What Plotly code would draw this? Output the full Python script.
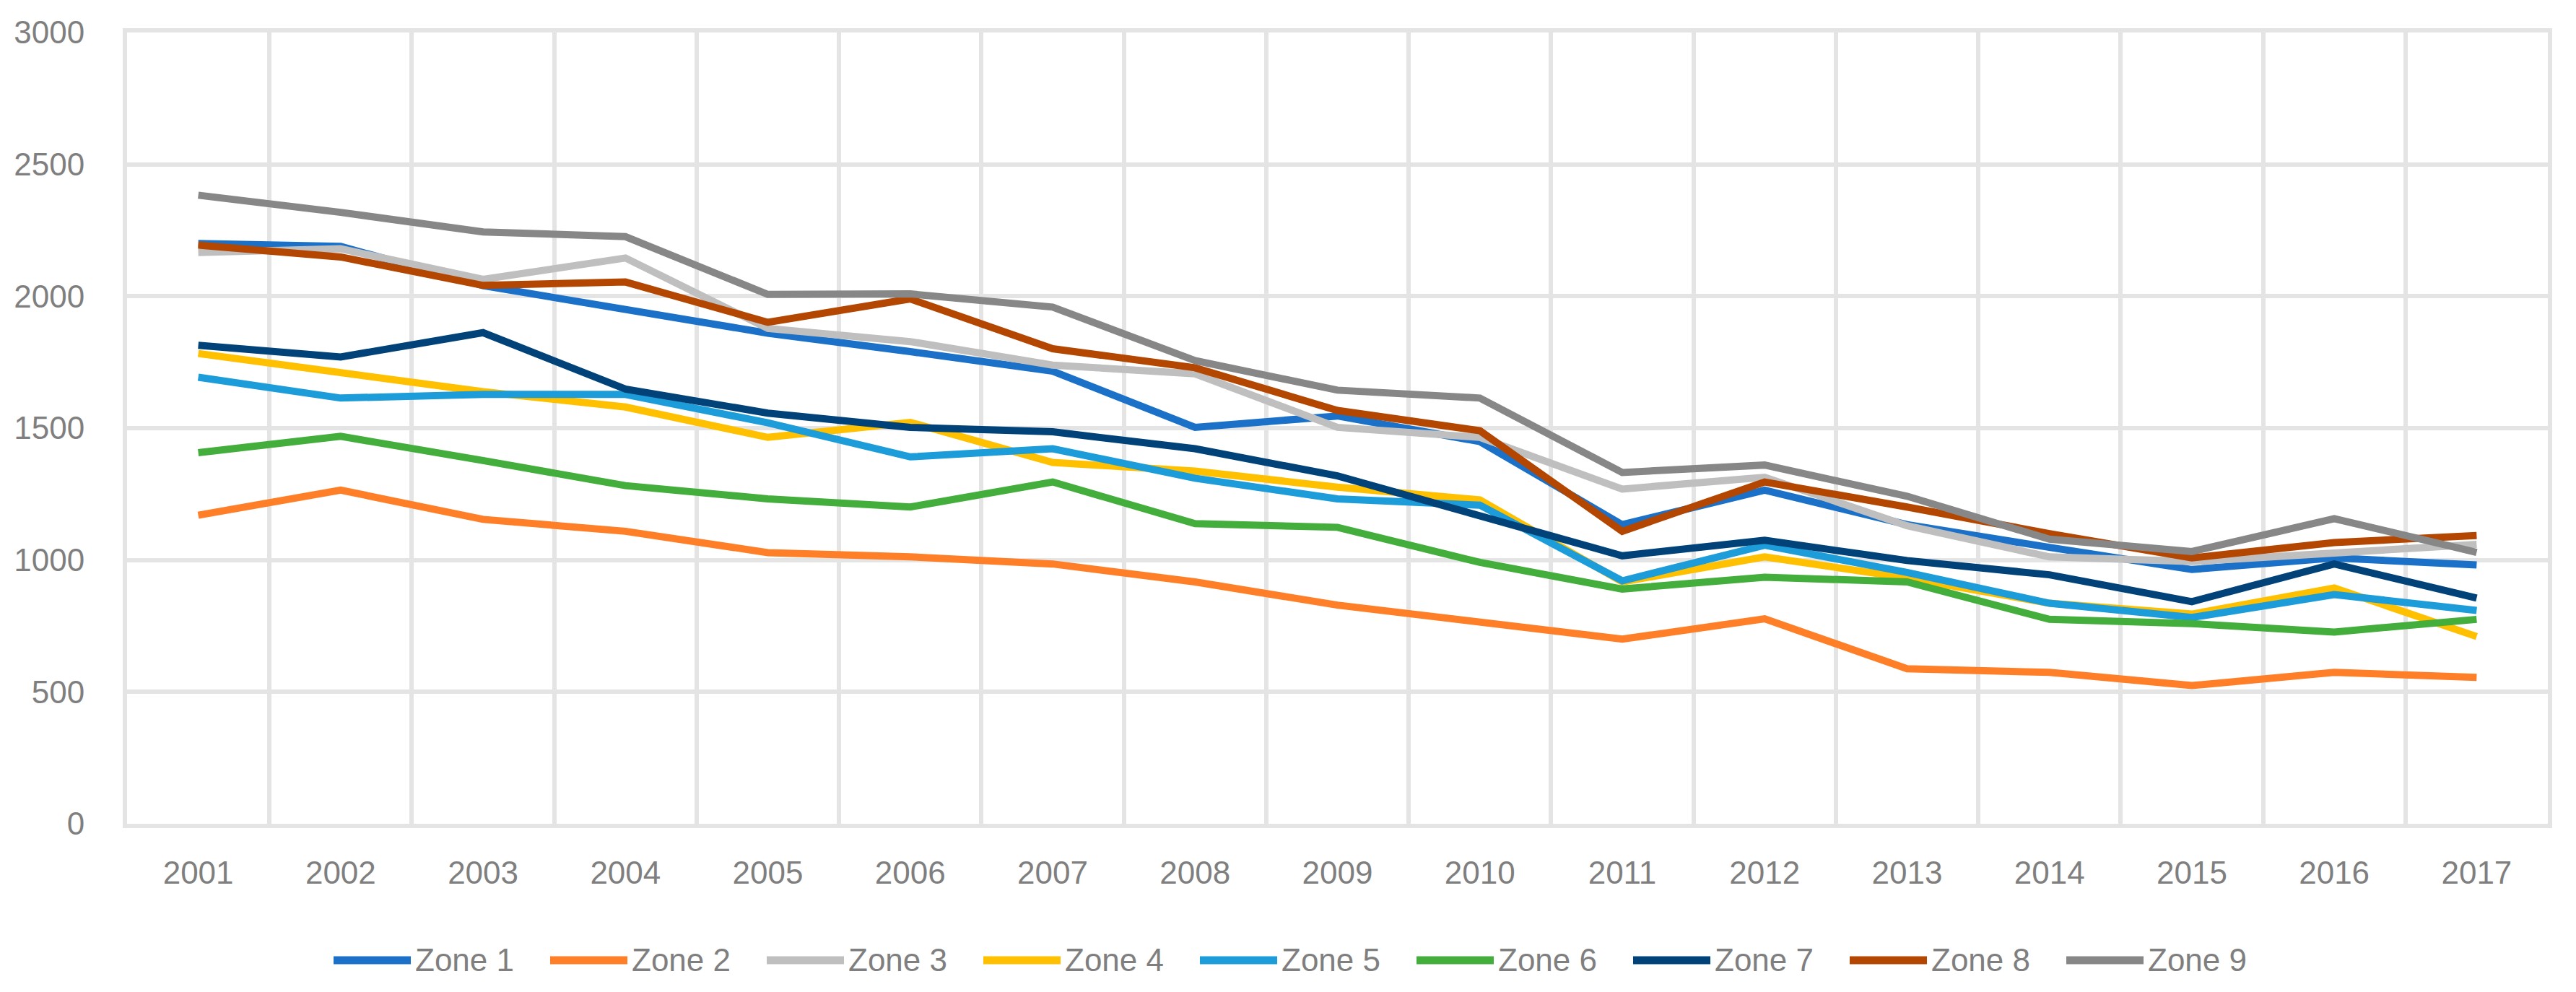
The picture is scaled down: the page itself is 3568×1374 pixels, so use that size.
import plotly.graph_objects as go

years = [str(y) for y in range(2001, 2018)]

zone1 = [2200, 2189, 2040, 1953, 1860, 1790, 1716, 1503, 1546, 1449, 1134, 1265, 1134, 1048, 964, 1008, 981]
zone2 = [1170, 1265, 1154, 1109, 1028, 1012, 985, 917, 829, 765, 700, 777, 588, 574, 524, 574, 555]
zone3 = [2166, 2180, 2064, 2145, 1878, 1828, 1739, 1706, 1503, 1465, 1269, 1314, 1130, 1012, 994, 1029, 1059]
zone4 = [1783, 1709, 1638, 1580, 1465, 1522, 1370, 1337, 1276, 1228, 917, 1012, 932, 836, 795, 894, 710]
zone5 = [1693, 1614, 1628, 1628, 1520, 1391, 1422, 1310, 1232, 1208, 921, 1056, 953, 836, 782, 869, 809]
zone6 = [1407, 1469, 1377, 1282, 1232, 1201, 1296, 1138, 1124, 991, 890, 935, 917, 775, 759, 727, 775]
zone7 = [1814, 1770, 1862, 1648, 1557, 1503, 1486, 1422, 1319, 1165, 1016, 1075, 998, 944, 842, 985, 856]
zone8 = [2194, 2149, 2041, 2054, 1901, 1990, 1801, 1729, 1567, 1490, 1109, 1296, 1201, 1100, 1008, 1066, 1093]
zone9 = [2383, 2318, 2244, 2226, 2007, 2009, 1959, 1756, 1644, 1614, 1332, 1360, 1242, 1079, 1032, 1157, 1029]

names = ["Zone 1", "Zone 2", "Zone 3", "Zone 4", "Zone 5", "Zone 6", "Zone 7", "Zone 8", "Zone 9"]
series = [zone1, zone2, zone3, zone4, zone5, zone6, zone7, zone8, zone9]
colors = ["#1b71c8", "#fe7f27", "#bfbfbf", "#ffc000", "#1c9dd9", "#43ae3c", "#014279", "#b34600", "#878787"]

y_ticks = [0, 500, 1000, 1500, 2000, 2500, 3000]

FONT = "Liberation Sans"
TEXT = "#7f7f7f"
GRID = "#e4e4e4"

W, H = 3568, 1374
ML, MR, MT, MB = 168, 47, 37, 241
PW, PH = W - ML - MR, H - MT - MB


def px_x(p):
    return (p - ML) / PW


def px_y(p):
    return (H - MB - p) / PH


fig = go.Figure()
for name, vals, col in zip(names, series, colors):
    fig.add_trace(go.Scatter(
        x=years, y=vals, name=name, mode="lines",
        line=dict(color=col, width=10), showlegend=False,
    ))

# legend drawn as keys + labels below the plot (long key lines like the original)
leg_start, leg_pitch, key_len, leg_y = 454, 300, 107, 1322
for i, (name, col) in enumerate(zip(names, colors)):
    x0 = leg_start + i * leg_pitch
    fig.add_shape(type="line", xref="paper", yref="paper",
                  x0=px_x(x0), x1=px_x(x0 + key_len), y0=px_y(leg_y), y1=px_y(leg_y),
                  line=dict(color=col, width=11), layer="above")
    fig.add_annotation(xref="paper", yref="paper", x=px_x(x0 + key_len + 4), y=px_y(leg_y),
                       xanchor="left", yanchor="middle", text=name, showarrow=False,
                       font=dict(family=FONT, size=44, color=TEXT))

fig.update_layout(
    width=W, height=H,
    paper_bgcolor="white", plot_bgcolor="white",
    margin=dict(l=ML, r=MR, t=MT, b=MB),
    font=dict(family=FONT, size=44, color=TEXT),
    showlegend=False,
)
fig.update_xaxes(
    type="category", range=[-0.5, 16.5],
    tickson="boundaries", showgrid=True, gridcolor=GRID, gridwidth=6,
    ticks="", ticklabelstandoff=24,
    showline=True, mirror=True, linecolor=GRID, linewidth=6,
    tickfont=dict(family=FONT, size=44, color=TEXT),
    zeroline=False,
)
fig.update_yaxes(
    range=[0, 3000], tickvals=y_ticks,
    showgrid=True, gridcolor=GRID, gridwidth=6,
    ticks="", ticklabelstandoff=44,
    showline=True, mirror=True, linecolor=GRID, linewidth=6,
    zeroline=False,
    tickfont=dict(family=FONT, size=44, color=TEXT),
)

fig.write_html("out.html")
